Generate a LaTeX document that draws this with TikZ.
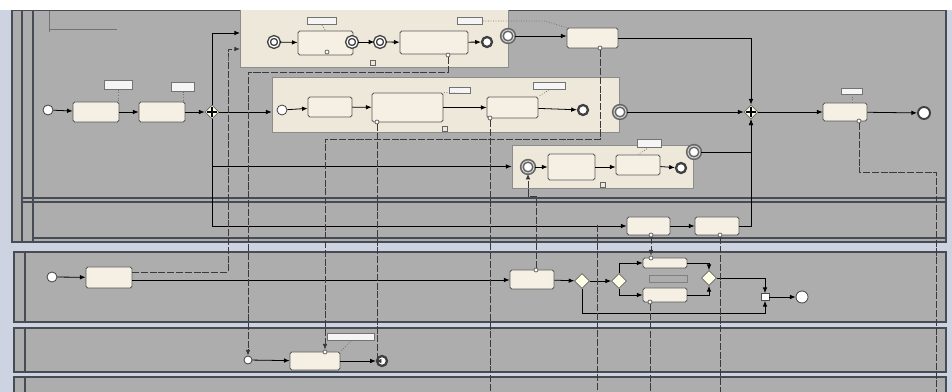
\documentclass[tikz,border=0pt]{standalone}
\usepackage{tikz}
\usetikzlibrary{arrows.meta,shapes.geometric}

\definecolor{bgblue}{HTML}{CDD3E0}
\definecolor{poolgray}{HTML}{ADADAD}
\definecolor{poolline}{HTML}{474B54}
\definecolor{subfill}{HTML}{EEE8DA}
\definecolor{taskfill}{HTML}{F5F0E3}
\definecolor{flow}{HTML}{3A3A3A}

\begin{document}
\begin{tikzpicture}[
  x=0.2mm, y=-0.2mm,
  >={Latex[length=3.2pt,width=2.6pt]}, line width=0.45pt,
  T/.style 2 args={draw=black!65, fill=taskfill, rounded corners=1pt, inner sep=0pt,
    minimum width=#1*0.2mm, minimum height=#2*0.2mm},
  SP/.style 2 args={draw=black!45, fill=subfill, inner sep=0pt,
    minimum width=#1*0.2mm, minimum height=#2*0.2mm},
  A/.style 2 args={draw=black!55, fill=white!92!gray, inner sep=0pt,
    minimum width=#1*0.2mm, minimum height=#2*0.2mm},
  ev/.style={circle, draw=black!75, fill=white, inner sep=0pt, minimum size=#1*0.2mm},
  evE/.style={ev=#1, line width=1.3pt},
  evI/.style={ev=#1, line width=0.8pt, double=white, double distance=0.7pt},
  evB/.style={ev=#1, draw=black!60, line width=0.9pt, double=gray!35, double distance=0.6pt},
  mk/.style={circle, draw=black!60, fill=white, inner sep=0pt, minimum size=4*0.2mm},
  sm/.style={draw=black!60, fill=subfill, inner sep=0pt, minimum size=5*0.2mm},
  gw/.style={diamond, draw=black!60, fill=white!90!yellow, inner sep=0pt, minimum size=15*0.2mm},
  gwP/.style={gw, minimum size=14*0.2mm, path picture={
    \draw[black, line width=1.1pt]
      ([yshift=-1.2pt]path picture bounding box.north) -- ([yshift=1.2pt]path picture bounding box.south)
      ([xshift=1.2pt]path picture bounding box.west) -- ([xshift=-1.2pt]path picture bounding box.east);}},
  msg/.style={flow, dash pattern=on 4pt off 1pt},
  assoc/.style={black!55, densely dotted},
  pool/.style={draw=poolline, fill=poolgray, line width=0.8pt},
]
\useasboundingbox (0,0) rectangle (952,392);
\fill[bgblue] (0,0) rectangle (952,392);

%--- POOLS AND LANES ---
\draw[pool] (12,10) rectangle (946,242);
\draw[poolline, line width=0.6pt] (22,10) -- (22,242) (33,10) -- (33,242);
\draw[poolline, line width=0.6pt] (22,198) -- (946,198) (22,202) -- (946,202);
\draw[poolline, line width=0.6pt] (33,238) -- (946,238);
\draw[pool] (14,252) rectangle (946,322);
\draw[poolline, line width=0.6pt] (25,252) -- (25,322);
\draw[pool] (14,328) rectangle (946,372);
\draw[poolline, line width=0.6pt] (25,328) -- (25,372);
\fill[poolgray] (14,377) rectangle (946,392);
\draw[poolline, line width=0.8pt] (14,392) |- (946,377) -- (946,392);
\draw[poolline, line width=0.6pt] (25,377) -- (25,392);

% note in the corner
\draw[black!55] (49,11) -- (49,32) (49,29) -- (117,29);

%--- SUBPROCESSES ---
\node[SP={268}{63}] (sub1) at (374,35.5) {};
\node[SP={347}{55}] (sub2) at (445.5,104.5) {};
\node[SP={181}{43}] (sub3) at (602.5,166.5) {};
\node[sm] (sub1m) at (373,63) {};
\node[sm] (sub2m) at (445,129) {};
\node[sm] (sub3m) at (603,185) {};

%--- LANE 1 ---
\node[ev=10] (st1) at (48,110) {};
\node[T={46}{20}] (t1) at (96,112) {};
\node[A={28}{9}] (a1) at (118,85) {};
\node[T={46}{20}] (t2) at (162,112) {};
\node[A={23}{9}] (a2) at (183,87) {};
\node[gwP] (g1) at (212,112) {};

% subprocess 1
\node[evI=10] (s1st) at (274,42) {};
\node[T={55}{24}] (s1t1) at (325.5,43) {};
\node[mk] (s1t1m) at (327,52) {};
\node[evI=10] (s1b1) at (352,42) {};
\node[evI=10] (s1ie) at (380,42) {};
\node[T={68}{23}] (s1t2) at (434,42.5) {};
\node[mk] (s1m) at (448,55) {};
\node[evE=10] (s1end) at (487,42) {};
\node[A={29}{7}] (s1a1) at (322,21) {};
\node[A={25}{7}] (s1a2) at (470,21) {};
\node[evB=12] (s1bnd) at (508,36) {};

\node[T={51}{20}] (tC) at (592.5,38) {};
\node[mk] (mkC) at (600,48) {};

% subprocess 2
\node[ev=10] (s2st) at (282,110) {};
\node[T={44}{20}] (s2t1) at (330,107) {};
\node[T={71}{29}] (s2t2) at (407.5,107.5) {};
\node[mk] (mk2) at (377,122) {};
\node[T={51}{21}] (s2t3) at (512.5,107.5) {};
\node[mk] (mk3) at (490,118) {};
\node[evE=10] (s2end) at (583,110) {};
\node[A={21}{6}] (s2a1) at (460,90) {};
\node[A={32}{7}] (s2a2) at (549,86) {};
\node[evB=12] (s2bnd) at (620,112) {};

% subprocess 3
\node[evB=12] (s3st) at (528,167) {};
\node[T={47}{26}] (s3t1) at (571.5,167) {};
\node[T={44}{20}] (s3t2) at (638,165) {};
\node[evE=10] (s3end) at (681,168) {};
\node[A={24}{8}] (s3a) at (649,143) {};
\node[evB=12] (s3bnd) at (694,152) {};

\node[gwP] (g2) at (751,112) {};
\node[T={44}{18}] (tX) at (845,112) {};
\node[mk] (mkX) at (859,121) {};
\node[A={21}{6}] (aX) at (852,91) {};
\node[ev=12, line width=1.1pt] (endX) at (924,113) {};

%--- LANE 2 ---
\node[T={43}{18}] (tE) at (648.5,226) {};
\node[mk] (mkE) at (651,235) {};
\node[T={44}{18}] (tF) at (717,226) {};
\node[mk] (mkF) at (720,235) {};

%--- POOL 2 ---
\node[ev=10] (p2st) at (52,277) {};
\node[T={46}{21}] (tP1) at (109,277.5) {};
\node[T={44}{19}] (tP2) at (532,279.5) {};
\node[mk] (mkP2) at (536,270) {};
\node[gw] (x1) at (582,281) {};
\node[gw] (x2) at (619,281) {};
\node[T={44}{10}] (tP3) at (665,263) {};
\node[mk] (mkP3) at (651,258) {};
\node[draw=black!50, inner sep=0pt, minimum width=38*0.2mm, minimum height=7*0.2mm] (pbox) at (668,279) {};
\node[T={44}{14}] (tP4) at (665,295) {};
\node[mk] (mkP4) at (650,302) {};
\node[gw] (x3) at (709,278) {};
\node[draw=black!70, fill=white, inner sep=0pt, minimum width=8*0.2mm, minimum height=7*0.2mm] (sq) at (765,297) {};
\node[ev=12] (p2end) at (802,297) {};

%--- POOL 3 ---
\node[ev=8] (p3ie) at (248,360) {};
\node[T={50}{18}] (tD) at (315,361) {};
\node[mk] (mkD) at (325,352) {};
\node[A={47}{7}] (p3a) at (351,337) {};
\node[evE=10] (p3end) at (382,361) {};

%--- COORDINATES ---
\coordinate (in1) at (240,33);
\coordinate (in2) at (240,49);
\coordinate (o1) at (132,272);
\coordinate (o2) at (132,280);
\coordinate (lo) at (765,313);
\coordinate (j1) at (248,72);
\coordinate (j2) at (325,139);
\coordinate (j3) at (536,196);
\coordinate (j4) at (597,225);
\coordinate (j5) at (936,172);
\coordinate (b1) at (490,392);
\coordinate (b2) at (597,392);
\coordinate (b3) at (650,392);
\coordinate (b4) at (720,392);
\coordinate (b5) at (936,392);

%--- SEQUENCE FLOWS ---
\draw[->] (st1) -- (t1);
\draw[->] (t1) -- (t2);
\draw[->] (t2) -- (g1);
\draw[->] (g1) -- (g1 -| sub2.west);
\draw[->] (g1.north) |- (in1);
\draw[->] (g1.south) |- (sub3.west);
\draw[->] (g1.south) |- (tE.west);
\draw[->] (s1st) -- (s1t1);
\draw[->] (s1b1) -- (s1ie);
\draw[->] (s1ie) -- (s1t2);
\draw[->] (s1t2) -- (s1end);
\draw[->] (s1bnd) -- (s1bnd -| tC.west);
\draw[->] (tC.east) -| (g2.north);
\draw[->] (s2st) -- (s2t1);
\draw[->] (s2t1) -- (s2t2);
\draw[->] (s2t2) -- (s2t2 -| s2t3.west);
\draw[->] (s2t3) -- (s2end);
\draw[->] (s2bnd) -- (g2);
\draw[->] (s3st) -- (s3t1);
\draw[->] (s3t1) -- (s3t1 -| s3t2.west);
\draw[->] (s3t2) -- (s3end);
\draw[->] (s3bnd) -| (g2.south);
\draw[->] (tE) -- (tF);
\draw[->] (tF.east) -| (g2.south);
\draw[->] (g2) -- (tX);
\draw[->] (tX) -- (endX);

\draw[->] (p2st) -- (tP1);
\draw[->] (o2) -- (o2 -| tP2.west);
\draw[->] (tP2) -- (x1);
\draw[->] (x1) -- (x2);
\draw[->] (x2.north) |- (tP3.west);
\draw[->] (x2.south) |- (tP4.west);
\draw[->] (tP3.east) -| (x3.north);
\draw[->] (tP4.east) -| (x3.south);
\draw[->] (x3.east) -| (sq.north);
\draw[->] (x1.south) |- (lo) -- (sq.south);
\draw[->] (sq) -- (p2end);

\draw[->] (p3ie) -- (tD);
\draw[->] (tD) -- (p3end);

%--- MESSAGE FLOWS ---
\draw[msg,->] (o1) -| (228,60) |- (in2);
\draw[msg,->] (s1m) |- (j1) -- (p3ie);
\draw[msg,->] (mkC) |- (j2) -- (mkD);
\draw[msg,->] (mk2) |- (p3end);
\draw[msg] (mk3) -- (b1);
\draw[msg,->] (mkP2) -- (j3) -| (s3st.south);
\draw[msg] (j4) -- (b2);
\draw[msg,->] (mkE) -- (mkP3);
\draw[msg] (mkP4) -- (b3);
\draw[msg] (mkF) -- (b4);
\draw[msg] (mkX) |- (j5) -- (b5);

%--- ASSOCIATIONS ---
\draw[assoc] (a1.south) -- (a1.south |- t1.north);
\draw[assoc] (a2.south) -- (a2.south |- t2.north);
\draw[assoc] (aX.south) -- (aX.south |- tX.north);
\draw[assoc] (s1a1.south) -- (s1t1.north);
\draw[assoc] (s1a2.east) -- (545,21) -- (tC.north west);
\draw[assoc] (s2a1.south) -- (s2t2.north east);
\draw[assoc] (s2a2.south) -- (s2t3.north east);
\draw[assoc] (s3a.south) -- (s3t2.north);
\draw[assoc] (p3a.south) -- (tD.north east);

% top edge of the capture
\fill[white] (0,0) rectangle (952,10);
\end{tikzpicture}
\end{document}
